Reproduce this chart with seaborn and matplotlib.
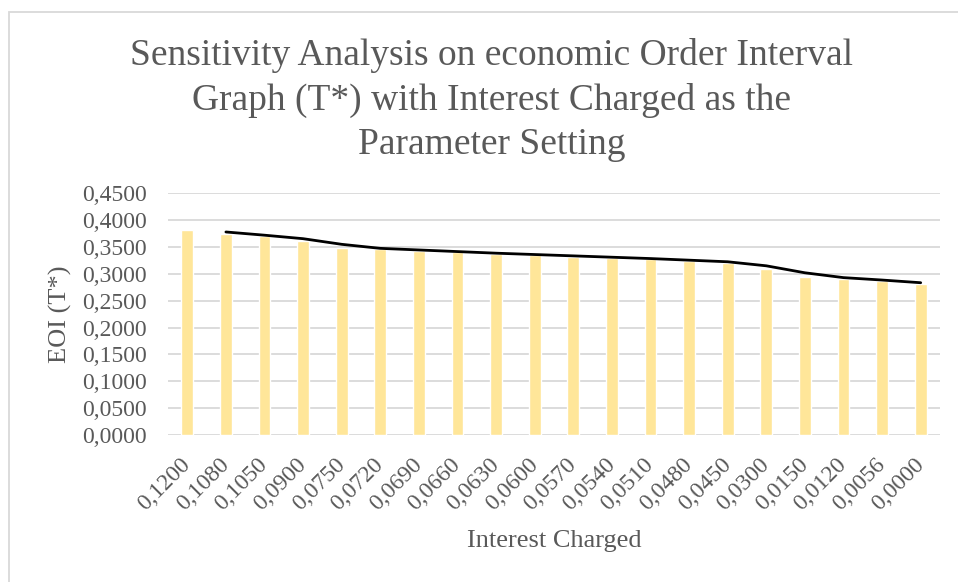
import numpy as np
import pandas as pd
import matplotlib
matplotlib.use("Agg")
import matplotlib.pyplot as plt
from matplotlib.patches import Rectangle
import seaborn as sns

# Interest charged settings (x categories) and resulting optimal order interval T*
interest_labels = ["0,1200", "0,1080", "0,1050", "0,0900", "0,0750", "0,0720", "0,0690",
                   "0,0660", "0,0630", "0,0600", "0,0570", "0,0540", "0,0510", "0,0480",
                   "0,0450", "0,0300", "0,0150", "0,0120", "0,0056", "0,0000"]
eoi_values = [0.382, 0.374, 0.370, 0.361, 0.349, 0.346, 0.343,
              0.340, 0.337, 0.335, 0.332, 0.330, 0.327, 0.324,
              0.321, 0.309, 0.295, 0.291, 0.286, 0.281]
y_ticks = [0.0, 0.05, 0.10, 0.15, 0.20, 0.25, 0.30, 0.35, 0.40, 0.45]

df = pd.DataFrame({"interest": interest_labels, "eoi": eoi_values})
# two-period moving average trendline
df["trend"] = df["eoi"].rolling(2).mean()
df["pos"] = np.arange(len(df))

sns.set_theme(style="white")
plt.rcParams["font.family"] = ["Liberation Serif", "DejaVu Serif"]
TXT = "#595959"

W, H = 958, 582
fig = plt.figure(figsize=(W / 100, H / 100), dpi=100)
ax = fig.add_axes([168 / W, 1 - 435 / H, (940 - 168) / W, (435 - 193.3) / H])

sns.barplot(data=df, x="interest", y="eoi", color="#FFE699", saturation=1,
            width=0.31, ax=ax, zorder=3)
sns.lineplot(data=df, x="pos", y="trend", color="black", linewidth=2.0,
             ax=ax, zorder=4)

ax.set_ylim(0, 0.45)
ax.set_xlim(-0.5, len(df) - 0.5)
ax.set_yticks(y_ticks)
ax.set_yticklabels([f"{v:.4f}".replace(".", ",") for v in y_ticks])
ax.grid(axis="y", color="#D9D9D9", linewidth=1.3, zorder=0)
ax.grid(axis="x", visible=False)
for s in ax.spines.values():
    s.set_visible(False)

ax.tick_params(axis="y", length=0, pad=15, labelsize=17, labelcolor=TXT)
ax.tick_params(axis="x", length=0, pad=19, labelsize=17, labelcolor=TXT)
for lbl in ax.get_xticklabels():
    lbl.set_rotation(45)
    lbl.set_ha("right")
    lbl.set_va("center")
    lbl.set_rotation_mode("anchor")

ax.set_xlabel("Interest Charged", fontsize=19, color=TXT, va="center")
ax.xaxis.set_label_coords(0.5, (435 - 541) / (435 - 193.3))
ax.set_ylabel("EOI (T*)", fontsize=19, color=TXT, ha="center", va="center")
ax.yaxis.set_label_coords((60 - 168) / (940 - 168), 0.5)

fig.text(492 / W, 1 - 100 / H,
         "Sensitivity Analysis on economic Order Interval\n"
         "Graph (T*) with Interest Charged as the\n"
         "Parameter Setting",
         ha="center", va="center", fontsize=27, color=TXT, linespacing=1.35)

# chart area frame
fig.patches.append(Rectangle((9 / W, -0.1), 1.2, 1 - 12 / H + 0.1,
                             transform=fig.transFigure, fill=False,
                             edgecolor="#D9D9D9", linewidth=1.3))

fig.savefig("out.png", dpi=100)
